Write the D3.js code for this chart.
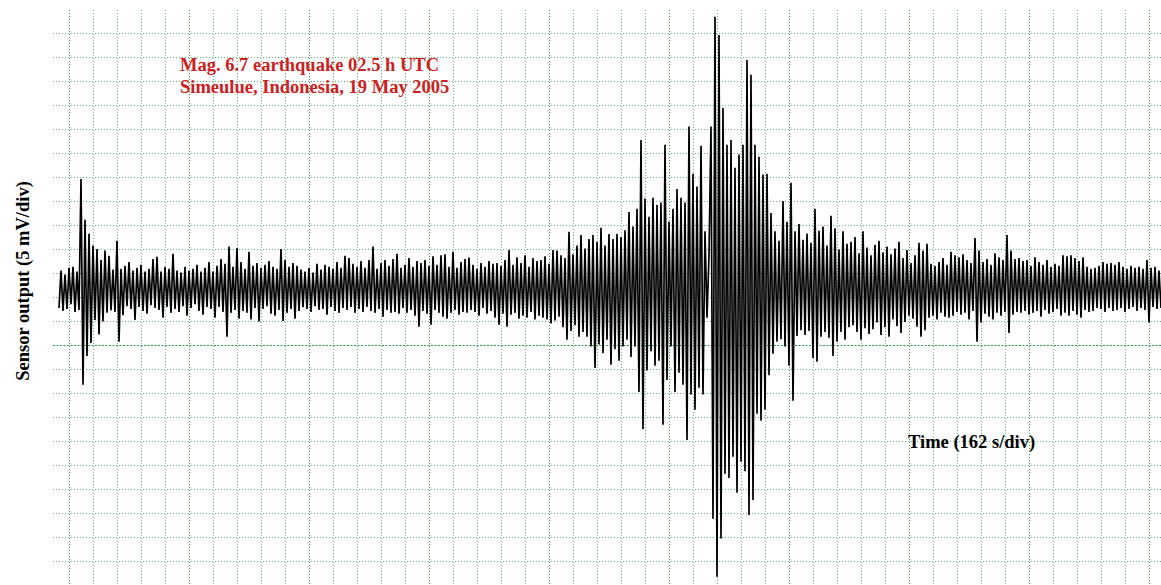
<!DOCTYPE html>
<html>
<head>
<meta charset="utf-8">
<script src="https://cdn.jsdelivr.net/npm/d3@7"></script>
<style>
  html, body { margin: 0; padding: 0; background: #ffffff; }
  svg { display: block; }
</style>
</head>
<body>
<svg id="chart" width="1161" height="585"></svg>
<script>
// ---- Recording settings ----
const secondsPerDiv = 162;      // horizontal scale, s per division
const mVPerDiv = 5;             // vertical scale, mV per division
const traceStart = -67.5;       // s, first sample relative to the first full division
const sampleInterval = 13.5;    // s between plotted samples
const dcOffset = 11.7;          // mV, sensor resting level above the zero line

// Sensor output, mV about the resting level; one row per time division (12 samples)
const trace = [
  -4.0, 3.8, -4.6, 3.0, -4.2, 4.4, -3.2, 4.6, -4.8, 3.6, -4.4, 22.9,
  -20.0, 14.4, -14.0, 11.5, -11.3, 9.0, -6.5, 8.3, -9.5, 6.0, -6.8, 8.0,
  -5.0, 6.9, -4.5, 4.0, -4.8, 10.0, -11.0, 4.2, -5.5, 4.8, -3.6, 5.6,
  -4.2, 3.8, -6.5, 4.4, -3.8, 5.0, -4.6, 3.6, -5.2, 4.2, -3.4, 6.2,
  -4.0, 6.7, -4.4, 3.6, -6.0, 4.6, -3.8, 4.2, -5.0, 7.3, -4.2, 3.8,
  -4.8, 3.4, -3.6, 4.6, -5.6, 3.8, -4.0, 4.2, -3.2, 5.0, -4.6, 3.6,
  -5.4, 4.4, -3.8, 5.6, -4.2, 3.6, -6.0, 4.8, -3.8, 6.2, -4.8, 5.2,
  -10.0, 8.8, -5.0, 4.6, -4.4, 8.5, -6.2, 5.6, -4.6, 4.2, -5.0, 7.7,
  -6.4, 4.8, -4.0, 5.4, -6.8, 4.4, -4.2, 5.0, -3.6, 5.8, -5.2, 4.6,
  -5.6, 4.2, -4.4, 8.3, -6.7, 6.0, -5.0, 4.6, -4.2, 5.4, -6.2, 4.8,
  -4.6, 4.0, -3.8, 3.6, -4.2, 4.4, -4.8, 3.4, -3.6, 5.2, -4.4, 4.0,
  -4.2, 5.0, -5.4, 4.6, -3.8, 4.2, -4.6, 5.6, -5.0, 4.4, -4.0, 6.9,
  -4.4, 6.4, -3.8, 5.2, -5.0, 4.6, -4.2, 5.8, -4.8, 4.4, -3.8, 6.0,
  -4.6, 8.8, -5.0, 4.2, -4.2, 5.4, -5.8, 6.0, -4.4, 4.8, -5.0, 6.2,
  -4.8, 7.3, -5.2, 4.4, -4.0, 5.0, -5.0, 6.4, -4.4, 4.6, -5.6, 5.8,
  -7.9, 5.4, -4.6, 6.0, -5.2, 4.8, -7.5, 6.8, -4.4, 5.0, -5.0, 7.0,
  -5.8, 7.2, -6.2, 4.6, -5.0, 7.7, -4.4, 4.4, -5.4, 5.6, -4.8, 6.2,
  -5.0, 6.5, -4.4, 5.0, -4.8, 4.2, -5.6, 5.4, -4.0, 4.6, -5.2, 5.8,
  -4.6, 5.2, -6.0, 5.4, -7.5, 4.8, -5.2, 6.0, -7.9, 8.1, -5.4, 5.0,
  -5.0, 6.6, -6.2, 5.4, -5.6, 7.0, -6.0, 4.6, -4.8, 6.4, -6.4, 5.8,
  -5.6, 6.0, -6.0, 6.8, -6.4, 5.2, -7.2, 8.1, -6.6, 8.0, -5.8, 7.0,
  -8.0, 6.4, -10.6, 11.9, -8.8, 7.2, -7.6, 9.0, -10.0, 11.2, -9.0, 8.4,
  -10.0, 10.4, -12.0, 11.2, -16.5, 9.8, -11.6, 12.7, -13.4, 9.0, -10.6, 11.4,
  -15.8, 10.4, -12.6, 11.5, -15.0, 10.8, -12.0, 12.2, -10.6, 16.0, -14.2, 13.0,
  -12.0, 16.7, -21.5, 31.0, -29.2, 18.8, -17.0, 15.0, -13.0, 19.0, -16.0, 17.5,
  -15.0, 18.0, -28.3, 30.0, -19.0, 14.0, -12.0, 16.7, -21.5, 20.8, -17.5, 19.0,
  -20.0, 18.0, -31.5, 33.8, -22.0, 24.0, -25.2, 21.3, -20.6, 29.8, -22.0, 12.0,
  -6.0, 7.0, 33.8, -47.9, 56.7, -60.0, 52.9, -52.0, 37.7, -38.5, 30.0, -39.4,
  31.0, -35.0, 25.2, -42.5, 28.0, -36.0, 30.0, -38.0, 47.7, -47.1, 44.6, -44.0,
  30.0, -26.0, 27.5, -27.5, 23.8, -25.2, 24.0, -18.0, 15.8, -13.5, 12.0, -11.0,
  10.0, -10.5, 18.3, -12.0, 14.0, -16.0, 22.1, -23.3, 12.0, -9.8, 13.5, -8.6,
  10.2, -9.6, 11.5, -8.8, 9.6, -14.4, 16.7, -15.2, 12.1, -10.0, 13.0, -9.0,
  9.0, -10.2, 15.2, -14.0, 12.6, -11.0, 8.2, -9.0, 12.0, -10.6, 9.4, -8.0,
  9.8, -7.6, 10.8, -9.0, 7.4, -10.6, 12.0, -8.2, 8.6, -9.4, 7.0, -8.4,
  9.2, -7.0, 10.0, -9.6, 7.6, -8.0, 8.8, -10.0, 7.2, -6.4, 8.4, -7.8,
  9.8, -9.2, 6.4, -6.9, 8.1, -5.6, 5.4, -6.2, 7.0, -7.9, 9.6, -10.0,
  8.0, -8.6, 9.4, -6.0, 5.2, -5.6, 4.8, -6.4, 5.6, -5.0, 6.4, -5.8,
  5.0, -6.0, 7.7, -5.6, 7.0, -4.8, 6.6, -5.4, 7.2, -5.0, 6.0, -6.4,
  5.4, -4.6, 10.6, -11.0, 8.0, -7.0, 5.6, -5.2, 6.2, -5.8, 5.0, -6.4,
  7.4, -5.0, 6.6, -5.6, 6.0, -4.8, 11.2, -9.2, 8.0, -5.4, 6.2, -4.8,
  6.4, -5.0, 5.8, -4.6, 6.0, -5.4, 4.8, -5.0, 6.6, -4.6, 5.6, -5.8,
  5.0, -4.4, 6.0, -5.2, 4.6, -4.8, 5.2, -4.2, 4.8, -5.6, 7.0, -5.0,
  6.8, -5.6, 7.0, -4.6, 6.4, -5.4, 5.8, -6.0, 6.6, -4.4, 4.6, -4.8,
  4.2, -4.6, 4.4, -4.0, 4.8, -4.2, 5.6, -4.8, 5.2, -4.0, 5.4, -4.6,
  5.0, -4.4, 5.6, -4.0, 4.6, -4.8, 4.2, -4.2, 4.8, -3.8, 4.4, -4.6,
  4.6, -4.0, 4.2, -4.4, 6.0, -7.0, 4.4, -3.8, 4.6, -4.2, 3.8, -4.0
];

// Text
const titleLines = ["Mag. 6.7 earthquake 02.5 h UTC", "Simeulue, Indonesia, 19 May 2005"];
const yLabel = "Sensor output (5 mV/div)";
const xLabel = "Time (162 s/div)";

// ---- Layout ----
const W = 1161, H = 585;
const plot = { left: 53, right: 1161, top: 10, bottom: 585 };

const x = d3.scaleLinear()
  .domain([-108, 7371])               // seconds
  .range([plot.left, plot.right]);
const y = d3.scaleLinear()
  .domain([-50, 70])                  // mV
  .range([plot.bottom, 9]);

const svg = d3.select("#chart");

svg.append("defs").append("clipPath").attr("id", "plotClip")
  .append("rect")
  .attr("x", plot.left).attr("y", plot.top)
  .attr("width", plot.right - plot.left).attr("height", plot.bottom - plot.top);

// ---- Grid: one line per division, every fifth time division and the zero line stronger ----
const timeDivs = d3.range(0, x.domain()[1] + 1, secondsPerDiv);
const voltDivs = d3.range(-50, 70, mVPerDiv).filter(v => y(v) >= plot.top);

const grid = svg.append("g").attr("clip-path", "url(#plotClip)");

grid.selectAll("line.v")
  .data(timeDivs)
  .join("line")
  .attr("class", "v")
  .attr("x1", d => Math.round(x(d)) + 0.5)
  .attr("x2", d => Math.round(x(d)) + 0.5)
  .attr("y1", plot.top).attr("y2", plot.bottom)
  .attr("stroke", d => (d % (5 * secondsPerDiv) === 0) ? "#2e9a50" : "#62b07a")
  .attr("stroke-width", 1)
  .attr("stroke-dasharray", "1 2");

grid.selectAll("line.h")
  .data(voltDivs)
  .join("line")
  .attr("class", "h")
  .attr("x1", plot.left).attr("x2", plot.right)
  .attr("y1", d => Math.round(y(d)) + 0.5)
  .attr("y2", d => Math.round(y(d)) + 0.5)
  .attr("stroke", d => d === 0 ? "#2e9a50" : "#62b07a")
  .attr("stroke-width", 1)
  .attr("stroke-dasharray", d => d === 0 ? "2 1.5" : "1 2");

// ---- Seismogram trace ----
const line = d3.line()
  .x((d, i) => x(traceStart + i * sampleInterval))
  .y(d => y(d + dcOffset));

svg.append("path")
  .datum(trace)
  .attr("clip-path", "url(#plotClip)")
  .attr("d", line)
  .attr("fill", "none")
  .attr("stroke", "#000000")
  .attr("stroke-width", 1.7)
  .attr("stroke-linejoin", "miter")
  .attr("stroke-miterlimit", 2);

// ---- Annotations ----
const serif = "'Liberation Serif', 'Times New Roman', serif";

svg.append("g")
  .selectAll("text")
  .data(titleLines)
  .join("text")
  .attr("x", 180)
  .attr("y", (d, i) => 71 + i * 22)
  .attr("font-family", serif)
  .attr("font-weight", "bold")
  .attr("font-size", "18.5px")
  .attr("fill", "#cc2020")
  .text(d => d);

svg.append("text")
  .attr("transform", "translate(29,281) rotate(-90)")
  .attr("text-anchor", "middle")
  .attr("font-family", serif)
  .attr("font-weight", "bold")
  .attr("font-size", "18.5px")
  .attr("fill", "#000")
  .text(yLabel);

svg.append("text")
  .attr("x", 908)
  .attr("y", 448)
  .attr("font-family", serif)
  .attr("font-weight", "bold")
  .attr("font-size", "18.5px")
  .attr("fill", "#000")
  .text(xLabel);
</script>
</body>
</html>
